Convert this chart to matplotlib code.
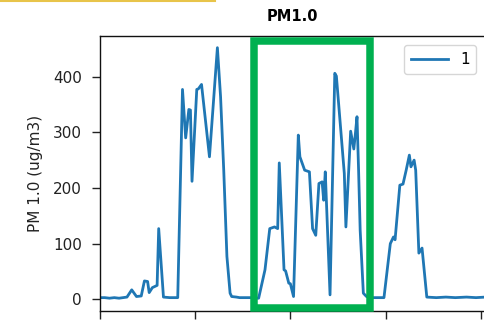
import matplotlib
matplotlib.use("Agg")
import matplotlib.pyplot as plt
from matplotlib.patches import Rectangle
from matplotlib.lines import Line2D

# PM1.0 readings: minutes from start of logging and concentration in ug/m3
minutes = [0, 3, 6, 9, 12, 17, 20, 23, 26, 28, 30, 31, 33, 36, 37, 40, 44, 49,
           52, 54, 56, 57, 58, 61, 62, 64, 69, 74, 76, 78, 80, 82, 83, 86, 88,
           91, 95, 100, 104, 107, 110, 112, 113, 116, 117, 119, 120, 122, 125,
           126, 129, 132, 134, 136, 138, 140, 141, 142, 145, 148, 149, 154, 155,
           158, 160, 161, 162, 163, 164, 166, 168, 171, 174, 179, 183, 185, 186,
           189, 191, 193, 195, 196, 198, 199, 201, 203, 206, 212, 218, 224, 231,
           237, 243]
pm10 = [3, 3, 2, 3, 2, 4, 17, 5, 6, 33, 32, 12, 21, 25, 127, 4, 3, 3,
        377, 290, 341, 340, 212, 377, 378, 386, 256, 452, 364, 232, 77, 11, 5, 4, 3,
        3, 3, 2, 53, 127, 130, 127, 245, 53, 51, 29, 28, 5, 295,
        256, 232, 229, 127, 115, 208, 211, 178, 229, 8, 406, 401, 226, 130,
        302, 270, 298, 328, 232, 124, 11, 5, 3, 3, 3, 100, 112, 107,
        205, 207, 232, 259, 238, 250, 232, 83, 92, 4, 3, 4, 3, 4,
        3, 4]
series_label = "1"
title_text = "PM1.0"
ylabel_text = "PM 1.0 (ug/m3)"
yticks = [0, 100, 200, 300, 400]
xticks = [0, 60, 120, 180, 240]

W, H = 485, 322
fig = plt.figure(figsize=(W / 100, H / 100), dpi=100)
ax = fig.add_axes([100 / W, 11 / H, 385.5 / W, 275 / H])

ax.plot(minutes, pm10, color="#1f77b4", linewidth=2.0, label=series_label)
ax.set_xlim(0, 243)
ax.set_ylim(-21, 473)
ax.set_yticks(yticks)
ax.set_xticks(xticks)
ax.tick_params(axis="both", length=6, width=1.0, pad=7, labelsize=11,
               colors="#222222")
ax.tick_params(axis="x", labelbottom=False)
for sp in ax.spines.values():
    sp.set_linewidth(1.0)
    sp.set_color("#111111")

ax.set_title(title_text, fontsize=10.5, fontweight="bold", pad=11)
ax.set_ylabel(ylabel_text, fontsize=11, labelpad=7, color="#222222")

leg = ax.legend(loc="upper right", fontsize=11, handlelength=2.4,
                borderaxespad=0.6, borderpad=0.45)

# highlighted interval
fig.add_artist(Rectangle((253.7 / W, 1 - 307.8 / H), (369.7 - 253.7) / W,
                         (307.8 - 41.2) / H, transform=fig.transFigure,
                         fill=False, edgecolor="#00b050", linewidth=5.4,
                         zorder=10))
# accent rule along the top edge
fig.add_artist(Line2D([0, 215 / W], [1 - 0.5 / H, 1 - 0.5 / H],
                      transform=fig.transFigure, color="#e8c44a",
                      linewidth=1.5, zorder=10))

fig.savefig("out.png", dpi=100)
